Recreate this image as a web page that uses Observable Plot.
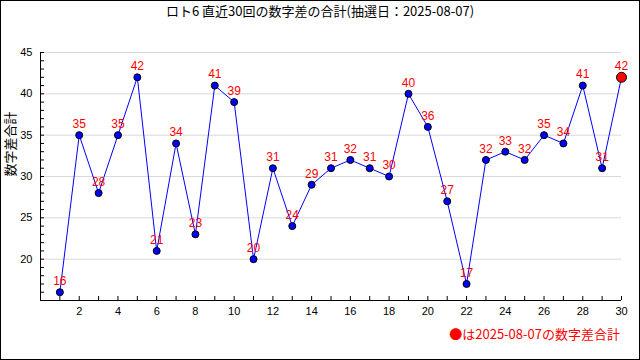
<!DOCTYPE html>
<html><head><meta charset="utf-8">
<script src="https://cdn.jsdelivr.net/npm/d3@7"></script>
<script src="https://cdn.jsdelivr.net/npm/@observablehq/plot@0.6"></script>
<style>
body{margin:0;background:#fff;}
#wrap{width:640px;height:360px;box-sizing:border-box;border:1px solid #000;position:relative;overflow:hidden;background:#fff;}
#title{height:23px;line-height:23px;text-align:center;font:13px "Noto Sans CJK JP",sans-serif;color:#000;}
#legend{position:absolute;right:19px;top:323px;font:13px "Noto Sans CJK JP",sans-serif;color:#ff0000;line-height:20px;}
</style></head>
<body>
<div id="wrap">
<div id="title"></div>
<div id="chart"></div>
<div id="legend"></div>
</div>
<script>
const titleText = "ロト6 直近30回の数字差の合計(抽選日：2025-08-07)";
const yLabel = "数字差合計";
const legendText = "●は2025-08-07の数字差合計";
const draws = d3.range(1, 31);
const sums = [16,35,28,35,42,21,34,23,41,39,20,31,24,29,31,32,31,30,40,36,27,17,32,33,32,35,34,41,31,42];
const yMajor = [20,25,30,35,40,45];
const yMinor = d3.range(15, 46);
const xTicks = d3.range(1, 31);
const xLabels = d3.range(2, 31, 2);

document.getElementById("title").textContent = titleText;
document.getElementById("legend").textContent = legendText;

const data = draws.map((d, i) => ({draw: d, sum: sums[i], last: i === draws.length - 1}));
const font = "Liberation Sans, Arial, sans-serif";

const chart = Plot.plot({
  width: 638,
  height: 300,
  marginTop: 28,
  marginBottom: 24,
  marginLeft: 39,
  marginRight: 18,
  style: {fontFamily: font, fontSize: "11px", color: "#000", background: "#fff"},
  x: {domain: [0, 30], label: null},
  y: {domain: [15, 45], label: null},
  marks: [
    Plot.gridY(yMajor, {stroke: "#d8d8d8", strokeOpacity: 1}),
    Plot.axisX(xTicks, {tickSize: -4, text: null, label: null, stroke: "#000"}),
    Plot.axisX(xLabels, {tickSize: 0, tickPadding: 7, label: null, fontSize: 11}),
    Plot.axisY(yMinor, {tickSize: -4, text: null, label: null, stroke: "#000"}),
    Plot.axisY(yMajor, {tickSize: 0, tickPadding: 8, label: null, fontSize: 11}),
    Plot.text([yLabel], {frameAnchor: "left", rotate: -90, dx: -30, fontSize: 13, fontFamily: "Noto Sans CJK JP", fill: "#000"}),
    Plot.ruleX([0], {stroke: "#000"}),
    Plot.ruleY([15], {stroke: "#000"}),
    Plot.line(data, {x: "draw", y: "sum", stroke: "#0000ff", strokeWidth: 1}),
    Plot.dot(data.filter(d => !d.last), {x: "draw", y: "sum", r: 3.5, fill: "#0000ff", stroke: "#000", strokeWidth: 1}),
    Plot.dot(data.filter(d => d.last), {x: "draw", y: "sum", r: 5, fill: "#ff0000", stroke: "#000", strokeWidth: 1}),
    Plot.text(data, {x: "draw", y: "sum", text: d => String(d.sum), dy: -11, fill: "#ff0000", fontSize: 12, fontFamily: font})
  ]
});
document.getElementById("chart").appendChild(chart);
</script>
</body></html>
